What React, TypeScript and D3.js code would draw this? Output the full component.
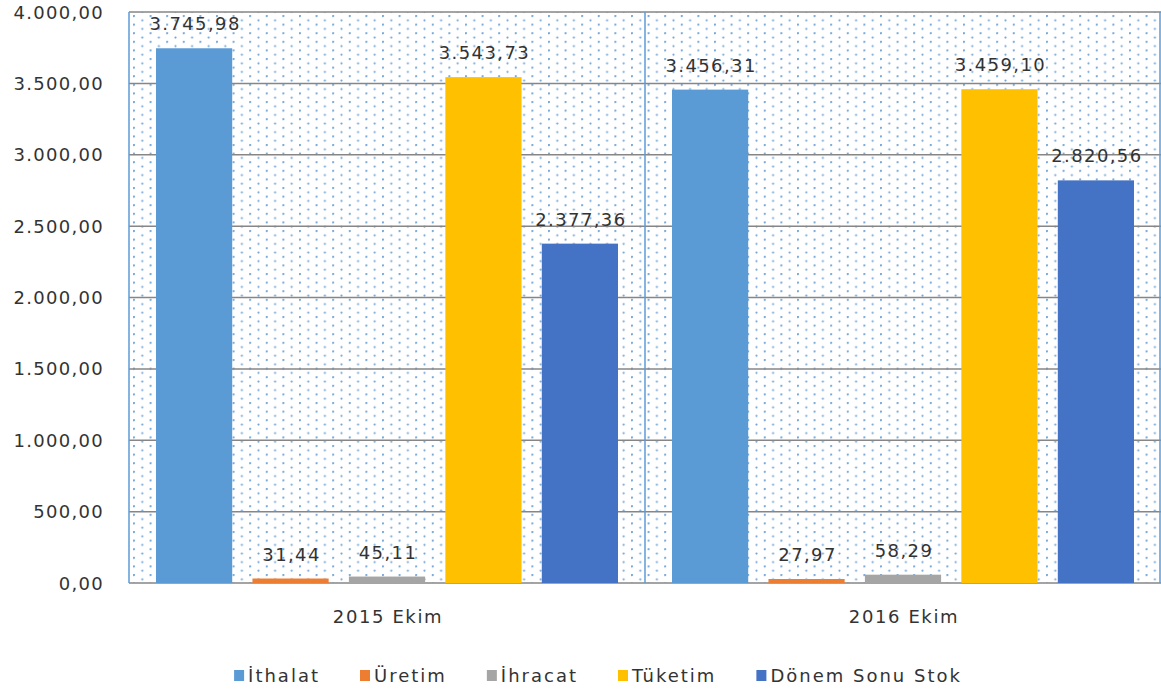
import React, { useEffect, useRef } from "react";
import * as d3 from "d3";

const categories = ["2015 Ekim", "2016 Ekim"];
const seriesNames = ["İthalat", "Üretim", "İhracat", "Tüketim", "Dönem Sonu Stok"];
const seriesColors = ["#5B9BD5", "#ED7D31", "#A5A5A5", "#FFC000", "#4472C4"];
const ithalat = [3745.98, 3456.31];
const uretim = [31.44, 27.97];
const ihracat = [45.11, 58.29];
const tuketim = [3543.73, 3459.1];
const donemSonuStok = [2377.36, 2820.56];
const yTicks = [0, 500, 1000, 1500, 2000, 2500, 3000, 3500, 4000];

const seriesValues = [ithalat, uretim, ihracat, tuketim, donemSonuStok];

const trLocale = d3.formatLocale({
  decimal: ",",
  thousands: ".",
  grouping: [3],
  currency: ["", ""],
});
const fmt = trLocale.format(",.2f");

const width = 1161;
const height = 692;
const font = "'DejaVu Sans', Verdana, sans-serif";

const App = () => {
  const ref = useRef<SVGSVGElement>(null);

  useEffect(() => {
    const svg = d3.select(ref.current);
    svg.selectAll("*").remove();

    const left = 129;
    const right = 1161;
    const top = 12;
    const bottom = 583;

    const x0 = d3.scaleBand().domain(categories).range([left, right]);
    const x1 = d3
      .scaleBand()
      .domain(seriesNames)
      .range([0, x0.bandwidth()])
      .paddingInner(0.21)
      .paddingOuter(0.28);
    const y = d3.scaleLinear().domain([0, 4000]).range([bottom, top]);

    // dotted fill of the plot area
    const defs = svg.append("defs");
    const pat = defs
      .append("pattern")
      .attr("id", "dots")
      .attr("patternUnits", "userSpaceOnUse")
      .attr("width", 16.6)
      .attr("height", 8.6)
      .attr("x", left + 4)
      .attr("y", top + 3);
    pat.append("rect").attr("width", 16.6).attr("height", 8.6).attr("fill", "#fff");
    pat.append("circle").attr("cx", 1).attr("cy", 1).attr("r", 1.1).attr("fill", "#6FA4D8");
    pat.append("circle").attr("cx", 9.3).attr("cy", 5.3).attr("r", 1.1).attr("fill", "#6FA4D8");

    svg
      .append("rect")
      .attr("x", left)
      .attr("y", top)
      .attr("width", right - left)
      .attr("height", bottom - top)
      .attr("fill", "url(#dots)");

    // gridlines
    svg
      .append("g")
      .selectAll("line")
      .data(yTicks)
      .join("line")
      .attr("x1", left)
      .attr("x2", right)
      .attr("y1", (d) => y(d))
      .attr("y2", (d) => y(d))
      .attr("stroke", "#868686")
      .attr("stroke-width", 1.5);

    // vertical category borders
    const vx = [left, left + x0.bandwidth(), right - 1];
    svg
      .append("g")
      .selectAll("line")
      .data(vx)
      .join("line")
      .attr("x1", (d) => d)
      .attr("x2", (d) => d)
      .attr("y1", top)
      .attr("y2", bottom)
      .attr("stroke", "#5B9BD5")
      .attr("stroke-width", 1.5);

    // bars
    const g = svg
      .append("g")
      .selectAll("g")
      .data(categories)
      .join("g")
      .attr("transform", (d) => `translate(${x0(d)},0)`);

    g.selectAll("rect")
      .data((_, ci) => seriesNames.map((s, si) => ({ s, si, v: seriesValues[si][ci] })))
      .join("rect")
      .attr("x", (d) => x1(d.s)!)
      .attr("y", (d) => y(d.v))
      .attr("width", x1.bandwidth())
      .attr("height", (d) => bottom - y(d.v))
      .attr("fill", (d) => seriesColors[d.si]);

    g.selectAll("text")
      .data((_, ci) => seriesNames.map((s, si) => ({ s, si, v: seriesValues[si][ci] })))
      .join("text")
      .attr("x", (d) => x1(d.s)! + x1.bandwidth() / 2 + 1)
      .attr("y", (d) => y(d.v) - 18)
      .attr("text-anchor", "middle")
      .attr("font-family", font)
      .attr("font-size", 18)
      .attr("letter-spacing", 1.4)
      .attr("fill", "#333")
      .text((d) => fmt(d.v));

    // y axis labels
    svg
      .append("g")
      .selectAll("text")
      .data(yTicks)
      .join("text")
      .attr("x", 104)
      .attr("y", (d) => y(d) + 6.5)
      .attr("text-anchor", "end")
      .attr("font-family", font)
      .attr("font-size", 18)
      .attr("letter-spacing", 1.3)
      .attr("fill", "#333")
      .text((d) => fmt(d));

    // x category labels
    svg
      .append("g")
      .selectAll("text")
      .data(categories)
      .join("text")
      .attr("x", (d) => x0(d)! + x0.bandwidth() / 2 + 1)
      .attr("y", 623)
      .attr("text-anchor", "middle")
      .attr("font-family", font)
      .attr("font-size", 18)
      .attr("letter-spacing", 1.6)
      .attr("fill", "#333")
      .text((d) => d);

    // legend
    const leg = svg.append("g");
    const items = leg
      .selectAll("g")
      .data(seriesNames)
      .join("g");
    items
      .append("rect")
      .attr("width", 10)
      .attr("height", 11)
      .attr("y", 670)
      .attr("fill", (_, i) => seriesColors[i]);
    const texts = items
      .append("text")
      .attr("x", 14)
      .attr("y", 682)
      .attr("font-family", font)
      .attr("font-size", 18)
      .attr("letter-spacing", 2)
      .attr("fill", "#333")
      .text((d) => d);
    let cx = 0;
    const offsets: number[] = [];
    texts.each(function () {
      offsets.push(cx);
      cx += 14 + (this as SVGTextElement).getComputedTextLength() + 40;
    });
    const total = cx - 40;
    const start = 598 - total / 2;
    items.attr("transform", (_, i) => `translate(${start + offsets[i]},0)`);
  }, []);

  return (
    <svg
      ref={ref}
      width={width}
      height={height}
      style={{ position: "absolute", left: 0, top: 0, background: "#fff" }}
    />
  );
};

export default App;
